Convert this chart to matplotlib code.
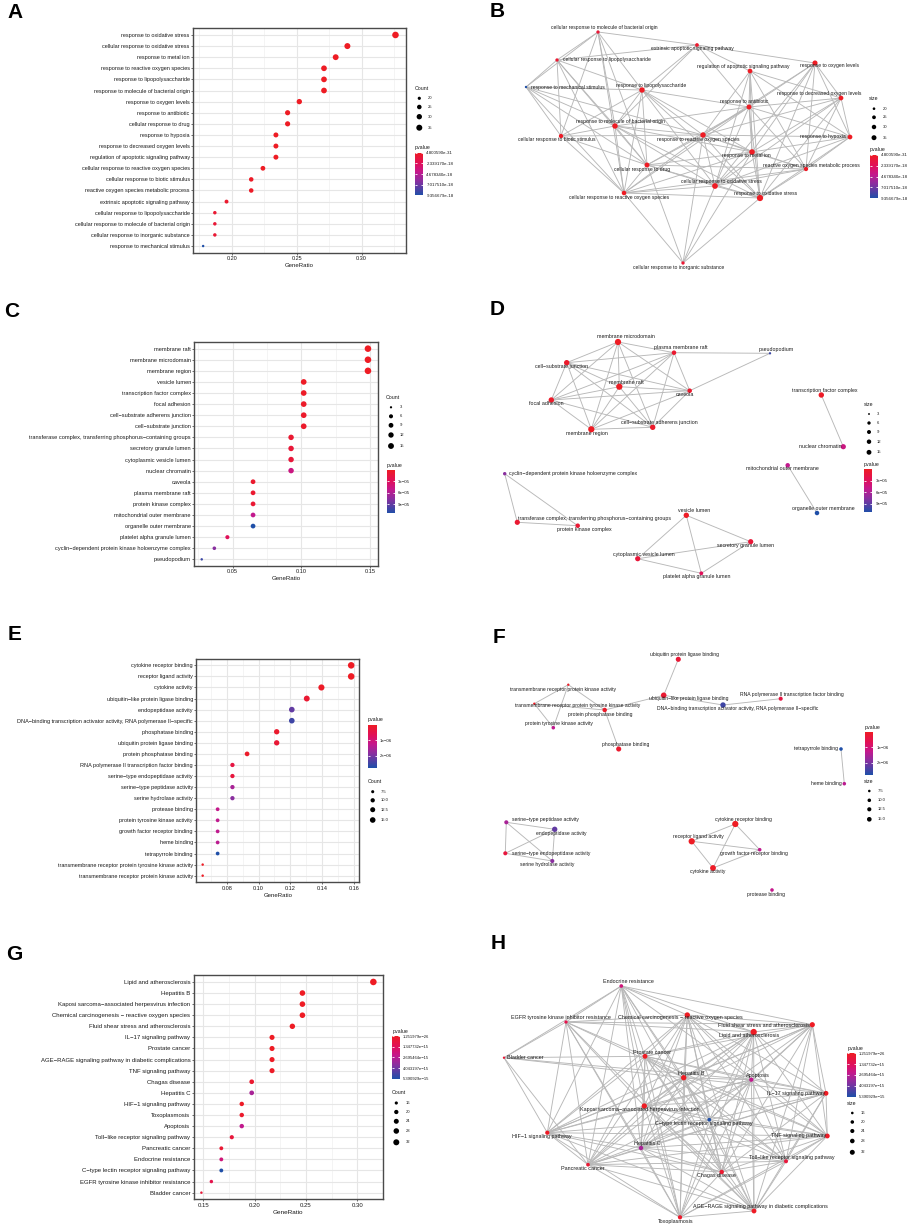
import numpy as np
import matplotlib
matplotlib.use('Agg')
import matplotlib.pyplot as plt
from matplotlib.colors import LinearSegmentedColormap, Normalize
from matplotlib.colorbar import ColorbarBase

plt.rcParams['font.family'] = ['Liberation Sans', 'DejaVu Sans']

# ---------------- DATA ----------------
# Panel A (GO BP)
a_terms = ["response to oxidative stress", "cellular response to oxidative stress", "response to metal ion",
           "response to reactive oxygen species", "response to lipopolysaccharide",
           "response to molecule of bacterial origin", "response to oxygen levels", "response to antibiotic",
           "cellular response to drug", "response to hypoxia", "response to decreased oxygen levels",
           "regulation of apoptotic signaling pathway", "cellular response to reactive oxygen species",
           "cellular response to biotic stimulus", "reactive oxygen species metabolic process",
           "extrinsic apoptotic signaling pathway", "cellular response to lipopolysaccharide",
           "cellular response to molecule of bacterial origin", "cellular response to inorganic substance",
           "response to mechanical stimulus"]
a_ratio = [0.326, 0.289, 0.280, 0.271, 0.271, 0.271, 0.252, 0.243, 0.243, 0.234, 0.234, 0.234,
           0.224, 0.215, 0.215, 0.196, 0.187, 0.187, 0.187, 0.178]
a_count = [35, 31, 30, 29, 29, 29, 27, 26, 26, 25, 25, 25, 24, 23, 23, 21, 20, 20, 20, 19]
a_pval = [4.800590e-31, 2.1e-27, 3.5e-26, 1.2e-25, 3.0e-25, 5.5e-25, 2.7e-23, 3.1e-22, 4.0e-22, 2.2e-21,
          2.5e-21, 3.3e-21, 1.5e-20, 1.1e-19, 1.3e-19, 5.0e-19, 6.0e-19, 8.0e-19, 7.0e-19, 9.356679e-18]
a_xticks = [0.20, 0.25, 0.30]
a_size_breaks = [20, 25, 30, 35]
a_p_breaks = [4.800590e-31, 2.339170e-18, 4.678340e-18, 7.017510e-18, 9.356679e-18]
a_p_labels = ["4.800590e-31", "2.339170e-18", "4.678340e-18", "7.017510e-18", "9.356679e-18"]

# Panel C (GO CC)
c_terms = ["membrane raft", "membrane microdomain", "membrane region", "vesicle lumen",
           "transcription factor complex", "focal adhesion", "cell\u2212substrate adherens junction",
           "cell\u2212substrate junction", "transferase complex, transferring phosphorus\u2212containing groups",
           "secretory granule lumen", "cytoplasmic vesicle lumen", "nuclear chromatin", "caveola",
           "plasma membrane raft", "protein kinase complex", "mitochondrial outer membrane",
           "organelle outer membrane", "platelet alpha granule lumen",
           "cyclin\u2212dependent protein kinase holoenzyme complex", "pseudopodium"]
c_ratio = [0.1485, 0.1485, 0.1485, 0.1017, 0.1017, 0.1017, 0.1017, 0.1017, 0.0925, 0.0925, 0.0925, 0.0925,
           0.0648, 0.0648, 0.0648, 0.0648, 0.0648, 0.0461, 0.0366, 0.0274]
c_count = [16, 16, 16, 11, 11, 11, 11, 11, 10, 10, 10, 10, 7, 7, 7, 7, 7, 5, 4, 3]
c_pval = [4.1e-7, 4.3e-7, 5.2e-7, 1.5e-6, 2.0e-6, 3.5e-6, 4.0e-6, 4.3e-6, 7.5e-6, 1.1e-5, 1.2e-5, 4.6e-5,
          6.0e-6, 7.0e-6, 9.0e-6, 5.2e-5, 1.13e-4, 2.8e-5, 7.6e-5, 1.03e-4]
c_xticks = [0.05, 0.10, 0.15]
c_size_breaks = [3, 6, 9, 12, 15]
c_p_breaks = [3e-5, 6e-5, 9e-5]
c_p_labels = ["3e\u221205", "6e\u221205", "9e\u221205"]

# Panel E (GO MF)
e_terms = ["cytokine receptor binding", "receptor ligand activity", "cytokine activity",
           "ubiquitin\u2212like protein ligase binding", "endopeptidase activity",
           "DNA\u2212binding transcription activator activity, RNA polymerase II\u2212specific",
           "phosphatase binding", "ubiquitin protein ligase binding", "protein phosphatase binding",
           "RNA polymerase II transcription factor binding", "serine\u2212type endopeptidase activity",
           "serine\u2212type peptidase activity", "serine hydrolase activity", "protease binding",
           "protein tyrosine kinase activity", "growth factor receptor binding", "heme binding",
           "tetrapyrrole binding", "transmembrane receptor protein tyrosine kinase activity",
           "transmembrane receptor protein kinase activity"]
e_ratio = [0.1582, 0.1582, 0.1395, 0.1303, 0.1209, 0.1209, 0.1114, 0.1114, 0.0928, 0.0836, 0.0836, 0.0836,
           0.0836, 0.0743, 0.0743, 0.0743, 0.0743, 0.0743, 0.0649, 0.0649]
e_count = [17, 17, 15, 14, 13, 13, 12, 12, 10, 9, 9, 9, 9, 8, 8, 8, 8, 8, 7, 7]
e_pval = [2.1e-8, 3.0e-8, 6.0e-8, 2.0e-7, 2.2e-6, 2.5e-6, 1.5e-7, 2.5e-7, 1.0e-7, 4.0e-7, 3.5e-7, 1.55e-6,
          1.85e-6, 1.25e-6, 1.3e-6, 1.3e-6, 1.35e-6, 2.77e-6, 4.0e-8, 5.0e-8]
e_xticks = [0.08, 0.10, 0.12, 0.14, 0.16]
e_size_breaks = [7.5, 10.0, 12.5, 15.0]
e_p_breaks = [1e-6, 2e-6]
e_p_labels = ["1e\u221206", "2e\u221206"]

# Panel G (KEGG)
g_terms = ["Lipid and atherosclerosis", "Hepatitis B", "Kaposi sarcoma\u2212associated herpesvirus infection",
           "Chemical carcinogenesis \u2212 reactive oxygen species", "Fluid shear stress and atherosclerosis",
           "IL\u221217 signaling pathway", "Prostate cancer",
           "AGE\u2212RAGE signaling pathway in diabetic complications", "TNF signaling pathway",
           "Chagas disease", "Hepatitis C", "HIF\u22121 signaling pathway", "Toxoplasmosis", "Apoptosis",
           "Toll\u2212like receptor signaling pathway", "Pancreatic cancer", "Endocrine resistance",
           "C\u2212type lectin receptor signaling pathway", "EGFR tyrosine kinase inhibitor resistance",
           "Bladder cancer"]
g_ratio = [0.3156, 0.2465, 0.2465, 0.2465, 0.2367, 0.2169, 0.2169, 0.2169, 0.2169, 0.1971, 0.1971, 0.1874,
           0.1874, 0.1874, 0.1777, 0.1675, 0.1675, 0.1675, 0.1578, 0.1481]
g_count = [32, 25, 25, 25, 24, 22, 22, 22, 22, 20, 20, 19, 19, 19, 18, 17, 17, 17, 16, 15]
g_pval = [1.251979e-26, 1e-20, 5e-20, 3e-19, 2e-19, 5e-18, 2e-17, 5e-17, 8e-17, 3e-16, 3.0e-15, 1e-16,
          2e-16, 2.5e-15, 6e-16, 4e-16, 2.0e-15, 5.390929e-15, 1.0e-15, 5e-16]
g_xticks = [0.15, 0.20, 0.25, 0.30]
g_size_breaks = [16, 20, 24, 28, 32]
g_p_breaks = [1.251979e-26, 1.347732e-15, 2.695464e-15, 4.043197e-15, 5.390929e-15]
g_p_labels = ["1.251979e\u221226", "1.347732e\u221215", "2.695464e\u221215", "4.043197e\u221215",
              "5.390929e\u221215"]

# Network B (nodes refer to panel A terms)
b_nodes = ["cellular response to molecule of bacterial origin", "extrinsic apoptotic signaling pathway",
           "cellular response to lipopolysaccharide", "regulation of apoptotic signaling pathway",
           "response to oxygen levels", "response to mechanical stimulus", "response to lipopolysaccharide",
           "response to decreased oxygen levels", "response to antibiotic",
           "response to molecule of bacterial origin", "cellular response to biotic stimulus",
           "response to reactive oxygen species", "response to hypoxia", "response to metal ion",
           "cellular response to drug", "reactive oxygen species metabolic process",
           "cellular response to oxidative stress", "cellular response to reactive oxygen species",
           "response to oxidative stress", "cellular response to inorganic substance"]
b_edges = [(0, 1), (0, 2), (0, 5), (0, 9), (0, 10), (0, 14), (0, 17), (0, 6),
           (1, 2), (1, 3), (1, 4), (1, 6), (1, 9), (1, 8),
           (2, 5), (2, 9), (2, 10), (2, 14), (2, 17), (2, 6),
           (3, 8), (3, 11), (3, 13), (3, 16), (3, 18), (3, 12), (3, 7), (3, 15),
           (4, 7), (4, 12), (4, 8), (4, 13), (4, 11), (4, 15), (4, 16), (4, 18),
           (5, 6), (5, 9), (5, 10), (5, 14), (5, 17), (5, 11),
           (6, 9), (6, 10), (6, 14), (6, 17), (6, 11), (6, 13), (6, 16), (6, 18), (6, 8),
           (7, 12), (7, 8), (7, 11), (7, 13), (7, 15), (7, 16), (7, 18),
           (8, 11), (8, 13), (8, 16), (8, 18), (8, 12), (8, 14), (8, 15), (8, 9), (8, 17),
           (9, 10), (9, 14), (9, 17), (9, 11), (9, 13), (9, 16), (9, 18),
           (10, 14), (10, 17), (10, 11),
           (11, 13), (11, 14), (11, 15), (11, 16), (11, 17), (11, 18), (11, 12), (11, 19),
           (12, 13), (12, 16), (12, 18), (12, 15),
           (13, 14), (13, 16), (13, 18), (13, 15), (13, 17), (13, 19),
           (14, 16), (14, 17), (14, 18), (14, 15), (14, 19),
           (15, 16), (15, 18), (15, 17),
           (16, 17), (16, 18), (16, 19), (17, 18), (17, 19), (18, 19)]

# Network D (nodes refer to panel C terms)
d_nodes = ["membrane microdomain", "plasma membrane raft", "pseudopodium", "cell\u2212substrate junction",
           "membrane raft", "caveola", "focal adhesion", "cell\u2212substrate adherens junction",
           "membrane region", "transcription factor complex", "nuclear chromatin",
           "mitochondrial outer membrane", "organelle outer membrane",
           "cyclin\u2212dependent protein kinase holoenzyme complex",
           "transferase complex, transferring phosphorus\u2212containing groups", "protein kinase complex",
           "vesicle lumen", "secretory granule lumen", "cytoplasmic vesicle lumen",
           "platelet alpha granule lumen"]
d_edges = [(0, 1), (0, 3), (0, 4), (0, 5), (0, 6), (0, 7), (0, 8), (1, 3), (1, 4), (1, 5), (1, 6), (1, 7),
           (1, 8), (3, 4), (3, 5), (3, 6), (3, 7), (3, 8), (4, 5), (4, 6), (4, 7), (4, 8), (5, 6), (5, 7),
           (5, 8), (6, 7), (6, 8), (7, 8), (1, 2), (5, 2), (9, 10), (11, 12), (13, 14), (13, 15), (14, 15),
           (16, 17), (16, 18), (16, 19), (17, 18), (17, 19), (18, 19)]

# Network F (nodes refer to panel E terms)
f_nodes = ["ubiquitin protein ligase binding", "transmembrane receptor protein kinase activity",
           "ubiquitin\u2212like protein ligase binding", "RNA polymerase II transcription factor binding",
           "transmembrane receptor protein tyrosine kinase activity", "protein phosphatase binding",
           "DNA\u2212binding transcription activator activity, RNA polymerase II\u2212specific",
           "protein tyrosine kinase activity", "phosphatase binding", "tetrapyrrole binding", "heme binding",
           "serine\u2212type peptidase activity", "endopeptidase activity",
           "serine\u2212type endopeptidase activity", "serine hydrolase activity", "cytokine receptor binding",
           "receptor ligand activity", "growth factor receptor binding", "cytokine activity",
           "protease binding"]
f_edges = [(0, 2), (2, 5), (2, 6), (6, 3), (1, 4), (1, 7), (1, 5), (4, 7), (4, 5), (5, 8), (9, 10),
           (11, 12), (11, 13), (11, 14), (12, 13), (12, 14), (13, 14),
           (15, 16), (15, 17), (15, 18), (16, 17), (16, 18), (17, 18)]

# Network H (nodes refer to panel G terms)
h_nodes = ["Endocrine resistance", "Chemical carcinogenesis \u2212 reactive oxygen species",
           "EGFR tyrosine kinase inhibitor resistance", "Fluid shear stress and atherosclerosis",
           "Lipid and atherosclerosis", "Bladder cancer", "Prostate cancer", "Hepatitis B", "Apoptosis",
           "IL\u221217 signaling pathway", "Kaposi sarcoma\u2212associated herpesvirus infection",
           "C\u2212type lectin receptor signaling pathway", "HIF\u22121 signaling pathway",
           "TNF signaling pathway", "Hepatitis C", "Toll\u2212like receptor signaling pathway",
           "Pancreatic cancer", "Chagas disease",
           "AGE\u2212RAGE signaling pathway in diabetic complications", "Toxoplasmosis"]
h_adj = {0: [1, 2, 3, 4, 5, 6, 7, 10, 12, 14, 16, 19, 11, 17, 8],
         1: [2, 3, 4, 6, 7, 8, 9, 10, 11, 13, 14, 15, 16, 17, 18, 19, 12],
         2: [3, 4, 5, 6, 7, 10, 12, 14, 16, 19, 18],
         3: [4, 6, 7, 8, 9, 10, 11, 13, 15, 17, 18, 14, 12],
         4: [6, 7, 8, 9, 10, 11, 12, 13, 14, 15, 16, 17, 18, 19],
         5: [6, 7, 12, 16, 8],
         6: [7, 8, 9, 10, 11, 12, 13, 14, 15, 16, 17, 18, 19],
         7: [8, 9, 10, 11, 12, 13, 14, 15, 16, 17, 18, 19],
         8: [9, 10, 11, 12, 13, 14, 15, 16, 17, 18, 19],
         9: [10, 11, 13, 15, 17, 18, 14, 16],
         10: [11, 12, 13, 14, 15, 16, 17, 18, 19],
         11: [12, 13, 14, 15, 16, 17, 18, 19],
         12: [14, 16, 19, 17, 13, 18],
         13: [14, 15, 16, 17, 18, 19],
         14: [15, 16, 17, 18, 19],
         15: [16, 17, 18, 19],
         16: [17, 18, 19],
         17: [18, 19],
         18: [19]}

# ---------------- LAYOUT (figure pixel coords) ----------------
b_xy = [(598, 32), (697, 45), (557, 60), (750, 71), (815, 63), (526, 87), (642, 90), (841, 98), (749, 107),
        (615, 126), (561, 136), (703, 135), (850, 137), (752, 152), (647, 165), (806, 169), (715, 186),
        (624, 193), (760, 198), (683, 263)]
b_lxy = [(604, 27.7), (692, 48.3), (606.7, 59.3), (743.3, 66.7), (829, 66), (568.3, 87), (650.7, 85),
         (819, 93.3), (744.3, 102), (621, 122), (556.7, 139.3), (698.3, 139.3), (823.3, 136.7),
         (746.7, 155.7), (641.7, 169), (811, 165), (721.7, 181.3), (619, 197), (766, 193.3), (678.3, 267)]
d_xy = [(618, 342), (674, 352.7), (770, 353.3), (566.7, 362.7), (619.3, 386.7), (689.7, 390.7), (551.3, 400),
        (652.7, 427.3), (591.3, 429.3), (821.3, 395), (843.3, 446.7), (787.7, 465.3), (817, 513),
        (504.7, 473.7), (517.3, 522.3), (577.7, 525.7), (686.3, 515.3), (750.7, 541.7), (637.7, 558.7),
        (701.3, 573.3)]
d_lxy = [(625.7, 337), (680.7, 348), (776, 349), (561.7, 366.3), (626.7, 382), (685, 394.7), (546, 403.7),
         (659.7, 422.7), (586.7, 433.3), (825, 390.7), (820, 446), (782.3, 469), (823.3, 508.7),
         (573.3, 473.7), (594, 518.3), (584.3, 529.3), (693.7, 510), (746, 545), (644, 554.7),
         (696.7, 576.7)]
f_xy = [(678.3, 659.3), (568.3, 684.7), (663.7, 695.3), (780.7, 698.7), (534.3, 703.7), (604.7, 710),
        (723, 705), (553.3, 727.7), (618.7, 749), (841, 749), (844.3, 783.7), (506.3, 822.3),
        (554.7, 829.3), (505.3, 853.3), (552.3, 861), (735.3, 824), (691.7, 841.3), (759.7, 849.7),
        (713, 868), (772, 890)]
f_lxy = [(685, 654.7), (563.3, 689), (689, 698.7), (792.3, 694.3), (577.7, 706), (600, 714.3),
         (737.7, 708.7), (559.3, 723.7), (625.3, 744.3), (816, 748.7), (826.7, 783.3), (545, 819.3),
         (561.3, 833), (551, 853), (546.7, 864.7), (743, 819), (698.7, 836.7), (754.3, 853.3),
         (708, 871.3), (766.3, 894.3)]
h_xy = [(621.3, 986), (687.3, 1015), (566, 1022), (812.3, 1024.7), (753.7, 1032), (504, 1057.7),
        (645, 1056.3), (683.7, 1077.7), (751.3, 1079.7), (826, 1093.3), (644.3, 1106), (709.3, 1119.7),
        (547.3, 1132.7), (827.3, 1136), (641, 1148), (786, 1161.3), (588, 1164.7), (721.7, 1172),
        (754, 1211), (680, 1217.3)]
h_lxy = [(628, 981.7), (680, 1018), (560.7, 1017.7), (764.3, 1025.7), (749.3, 1035.7), (525, 1057.7),
         (652, 1052), (691, 1073), (757.7, 1075.3), (796, 1093), (640, 1109.7), (704.3, 1123.7),
         (542.3, 1136.7), (798.3, 1135.7), (647.7, 1143.7), (792.3, 1157), (583.3, 1168.3), (716, 1176),
         (760.7, 1206.3), (675.7, 1221)]

# ---------------- STYLE ----------------
W, H = 913, 1226
fig = plt.figure(figsize=(W / 100, H / 100), dpi=100)
cmap = LinearSegmentedColormap.from_list('pv', [(0, '#EE1C24'), (0.25, '#E0105A'), (0.45, '#C4188C'),
                                                (0.66, '#8C2E9F'), (1.0, '#1F4FA8')])
TXT = '#1a1a1a'


def fax(x0, y0, x1, y1, **kw):
    return fig.add_axes([x0 / W, 1 - y1 / H, (x1 - x0) / W, (y1 - y0) / H], **kw)


def sz(c, lo, hi, k):
    t = np.clip((np.asarray(c, float) - lo) / (hi - lo), 0, 1)
    d = k * (3 + 5 * np.sqrt(t))  # diameter in px
    return (d * 0.72) ** 2


def dotplot(box, terms, ratio, count, pval, xlim, xticks, ylab_fs):
    ax = fax(*box)
    n = len(terms)
    y = np.arange(n, 0, -1)
    norm = Normalize(min(pval), max(pval))
    ax.scatter(ratio, y, s=sz(count, min(count), max(count), 0.82), c=pval, cmap=cmap, norm=norm,
               edgecolors='none', zorder=3)
    ax.set_xlim(*xlim)
    ax.set_ylim(0.4, n + 0.6)
    ax.set_yticks(y)
    ax.set_yticklabels(terms, fontsize=ylab_fs, color=TXT)
    ax.set_xticks(xticks)
    ax.set_xticklabels(['%.2f' % v for v in xticks], fontsize=ylab_fs, color=TXT)
    step = xticks[1] - xticks[0]
    minor = [v - step / 2 for v in xticks] + [xticks[-1] + step / 2]
    ax.set_xticks([m for m in minor if xlim[0] <= m <= xlim[1]], minor=True)
    ax.grid(which='major', color='#E6E6E6', lw=0.8, zorder=0)
    ax.grid(which='minor', axis='x', color='#EFEFEF', lw=0.45, zorder=0)
    ax.set_axisbelow(True)
    ax.tick_params(which='major', length=1.6, width=0.5, color='#333333', pad=0.8)
    ax.tick_params(which='minor', length=0)
    for sp in ax.spines.values():
        sp.set_color('#4a4a4a')
        sp.set_linewidth(1.0)
    ax.set_xlabel('GeneRatio', fontsize=ylab_fs + 0.3, color=TXT, labelpad=1.5)
    return ax


def colorbar(box, vmin, vmax, breaks, labels, title, fs=3.2):
    cax = fax(*box)
    cb = ColorbarBase(cax, cmap=cmap, norm=Normalize(vmin, vmax), orientation='vertical')
    cb.outline.set_visible(False)
    cax.set_ylim(vmax, vmin)
    cax.set_yticks(breaks)
    cax.set_yticklabels(labels)
    cax.tick_params(axis='y', direction='in', length=1.7, width=0.6, color='white', left=True, right=True,
                    labelleft=False, labelright=True, labelsize=fs, pad=2.2, labelcolor=TXT)
    x0, y0 = box[0], box[1]
    ov.text(x0, y0 - 2.5, title, fontsize=3.8, color=TXT, ha='left', va='bottom')


def sizelegend(x, ys, breaks, lo, hi, k, title, ty, lx, fmt='%g'):
    ov.text(x - 5, ty, title, fontsize=3.8, color=TXT, ha='left', va='center')
    for yy, b in zip(ys, breaks):
        ov.scatter([x], [yy], s=sz(b, lo, hi, k), color='black', edgecolors='none')
        ov.text(lx, yy, fmt % b, fontsize=3.0, color=TXT, ha='left', va='center')


def network(nodes, xy, lxy, edges, terms, count, pval, fs):
    idx = {t: i for i, t in enumerate(terms)}
    cnt = np.array([count[idx[n]] for n in nodes])
    pv = np.array([pval[idx[n]] for n in nodes])
    norm = Normalize(min(pval), max(pval))
    for i, j in edges:
        ov.plot([xy[i][0], xy[j][0]], [xy[i][1], xy[j][1]], color='#B8B8B8', lw=0.65, zorder=1,
                solid_capstyle='round')
    xs = [p[0] for p in xy]
    ys = [p[1] for p in xy]
    ov.scatter(xs, ys, s=sz(cnt, min(count), max(count), 0.78), c=pv, cmap=cmap, norm=norm,
               edgecolors='none', zorder=2)
    for n, (lx, ly) in zip(nodes, lxy):
        ov.text(lx, ly, n, fontsize=fs, color=TXT, ha='center', va='center', zorder=3)


ov = fig.add_axes([0, 0, 1, 1], zorder=10)
ov.set_xlim(0, W)
ov.set_ylim(H, 0)
ov.set_axis_off()
ov.patch.set_alpha(0)

# Dot plots
dotplot((193, 28.3, 406, 252.7), a_terms, a_ratio, a_count, a_pval, (0.1702, 0.3341), a_xticks, 4.0)
dotplot((194.3, 342, 377.7, 566), c_terms, c_ratio, c_count, c_pval, (0.0220, 0.1556), c_xticks, 4.1)
dotplot((196.3, 658.7, 359.3, 882.3), e_terms, e_ratio, e_count, e_pval, (0.0609, 0.1633), e_xticks, 4.0)
dotplot((193.7, 975.3, 382.7, 1199.3), g_terms, g_ratio, g_count, g_pval, (0.1406, 0.3247), g_xticks, 4.3)

# Networks
network(b_nodes, b_xy, b_lxy, b_edges, a_terms, a_count, a_pval, 3.6)
network(d_nodes, d_xy, d_lxy, d_edges, c_terms, c_count, c_pval, 3.8)
network(f_nodes, f_xy, f_lxy, f_edges, e_terms, e_count, e_pval, 3.6)
h_edges = [(i, j) for i in h_adj for j in h_adj[i]]
network(h_nodes, h_xy, h_lxy, h_edges, g_terms, g_count, g_pval, 3.9)

# Legends A
sizelegend(419.3, [98.3, 107, 116.7, 127.7], a_size_breaks, min(a_count), max(a_count), 0.75, 'Count', 88, 428)
colorbar((415, 152.7, 423.3, 195.3), min(a_pval), max(a_pval), a_p_breaks, a_p_labels, 'pvalue')
# Legends B
sizelegend(874, [108.7, 117.3, 127, 137.7], a_size_breaks, min(a_count), max(a_count), 0.62, 'size', 99, 883)
colorbar((870, 155, 877.7, 198.3), min(a_pval), max(a_pval), a_p_breaks, a_p_labels, 'pvalue')
# Legends C
sizelegend(391, [407.3, 416.3, 425.3, 435, 446], c_size_breaks, min(c_count), max(c_count), 0.75, 'Count',
           397.7, 399.5)
colorbar((386.7, 470, 395, 513.3), min(c_pval), max(c_pval), c_p_breaks, c_p_labels, 'pvalue')
# Legends D
sizelegend(869, [414, 423, 432, 441.7, 452.3], c_size_breaks, min(c_count), max(c_count), 0.62, 'size',
           404.3, 877)
colorbar((864, 469.3, 872.3, 512.3), min(c_pval), max(c_pval), c_p_breaks, c_p_labels, 'pvalue')
# Legends E
colorbar((368, 724.7, 376.7, 767.7), min(e_pval), max(e_pval), e_p_breaks, e_p_labels, 'pvalue')
sizelegend(372.7, [791.7, 800.3, 809.7, 820], e_size_breaks, min(e_count), max(e_count), 0.75, 'Count',
           781.7, 381, fmt='%.1f')
# Legends F
colorbar((865, 732, 873.3, 774.7), min(e_pval), max(e_pval), e_p_breaks, e_p_labels, 'pvalue')
sizelegend(869.3, [791, 800.3, 809.3, 819.3], e_size_breaks, min(e_count), max(e_count), 0.62, 'size',
           781.7, 877.5, fmt='%.1f')
# Legends G
colorbar((392.3, 1036, 400, 1079), min(g_pval), max(g_pval), g_p_breaks, g_p_labels, 'pvalue', fs=3.0)
sizelegend(396.3, [1103, 1112, 1121.3, 1131, 1142.3], g_size_breaks, min(g_count), max(g_count), 0.75,
           'Count', 1093, 406)
# Legends H
colorbar((847.3, 1053.3, 855.7, 1096.7), min(g_pval), max(g_pval), g_p_breaks, g_p_labels, 'pvalue', fs=3.0)
sizelegend(852.3, [1113, 1122, 1131, 1141, 1152.3], g_size_breaks, min(g_count), max(g_count), 0.62, 'size',
           1103.3, 861)

# Panel letters
for L, x, yb in [('A', 7, 18), ('B', 490, 17.3), ('C', 4, 317), ('D', 490, 315), ('E', 8, 640),
                 ('F', 493, 642.7), ('G', 6, 960), ('H', 491, 949.3)]:
    ov.text(x, yb, L, fontsize=15, fontweight='bold', color='black', ha='left', va='baseline')

fig.savefig('out.png', dpi=100)
